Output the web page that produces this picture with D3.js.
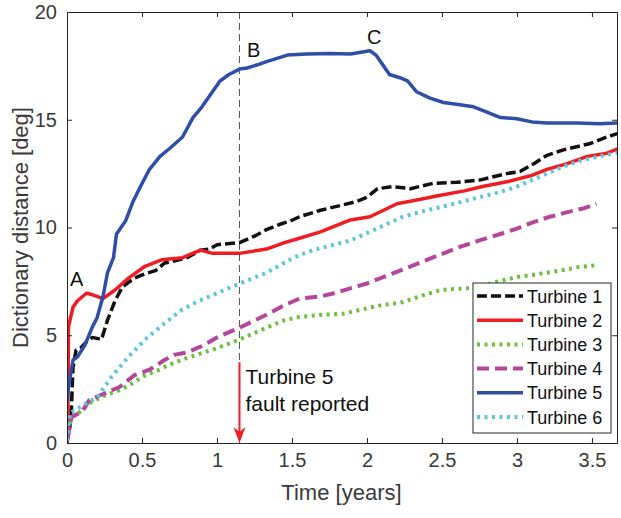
<!DOCTYPE html>
<html>
<head>
<meta charset="utf-8">
<script src="https://cdn.jsdelivr.net/npm/d3@7"></script>
<style>
  body { margin: 0; background: #fff; }
  text { font-family: "Liberation Sans", Arial, sans-serif; }
</style>
</head>
<body>
<div id="chart"></div>
<script>
const width = 621;
const height = 518;
const margin = { top: 12, right: 4, bottom: 75, left: 67 };

// [years, deg]
const turbine1 = [[0,0],[0.02,0.8],[0.03,1.7],[0.04,3.5],[0.06,4.3],[0.09,4.4],[0.13,4.7],[0.17,4.9],[0.23,4.8],[0.27,5.7],[0.32,6.6],[0.37,7.25],[0.45,7.65],[0.52,7.85],[0.59,8.0],[0.65,8.35],[0.72,8.45],[0.8,8.6],[0.89,8.95],[0.95,9.0],[1.0,9.2],[1.15,9.3],[1.25,9.6],[1.33,9.9],[1.42,10.15],[1.49,10.3],[1.55,10.5],[1.69,10.8],[1.84,11.05],[1.93,11.2],[2.0,11.4],[2.07,11.8],[2.17,11.9],[2.29,11.8],[2.44,12.05],[2.6,12.1],[2.75,12.2],[2.93,12.5],[3.02,12.6],[3.11,12.95],[3.2,13.35],[3.31,13.6],[3.49,13.9],[3.6,14.2],[3.69,14.4]];
const turbine2 = [[0,0],[0.005,0.75],[0.01,5.4],[0.04,6.3],[0.07,6.6],[0.13,6.95],[0.16,6.9],[0.2,6.8],[0.24,6.7],[0.29,6.95],[0.32,7.1],[0.41,7.65],[0.52,8.2],[0.63,8.5],[0.77,8.6],[0.89,8.95],[0.97,8.8],[1.15,8.8],[1.33,9.0],[1.45,9.3],[1.55,9.5],[1.69,9.8],[1.89,10.35],[2.02,10.5],[2.2,11.1],[2.35,11.3],[2.49,11.5],[2.65,11.7],[2.77,11.9],[2.95,12.15],[3.09,12.4],[3.2,12.7],[3.33,12.95],[3.47,13.3],[3.6,13.45],[3.69,13.7]];
const turbine3 = [[0,0.2],[0.01,0.5],[0.03,1.2],[0.1,1.5],[0.15,1.85],[0.25,2.2],[0.35,2.45],[0.43,2.75],[0.51,3.1],[0.6,3.35],[0.67,3.6],[0.78,3.9],[0.89,4.15],[1.0,4.4],[1.15,4.8],[1.33,5.35],[1.45,5.7],[1.55,5.85],[1.7,5.95],[1.84,6.0],[2.0,6.25],[2.1,6.4],[2.22,6.5],[2.35,6.8],[2.49,7.1],[2.6,7.15],[2.71,7.2],[2.85,7.45],[3.0,7.7],[3.15,7.85],[3.29,8.0],[3.4,8.15],[3.53,8.25]];
const turbine4 = [[0,0.2],[0.01,0.45],[0.03,1.2],[0.1,1.45],[0.15,2.0],[0.2,2.15],[0.3,2.45],[0.35,2.6],[0.45,3.15],[0.55,3.4],[0.65,3.85],[0.72,4.1],[0.8,4.2],[0.9,4.5],[1.0,4.9],[1.15,5.35],[1.33,5.95],[1.45,6.4],[1.55,6.7],[1.69,6.8],[1.78,6.95],[1.9,7.2],[2.0,7.4],[2.22,8.0],[2.4,8.5],[2.62,9.1],[2.75,9.4],[2.89,9.7],[3.0,9.95],[3.11,10.25],[3.22,10.5],[3.33,10.7],[3.45,10.9],[3.53,11.1]];
const turbine5 = [[0,1.9],[0.01,2.6],[0.04,3.85],[0.07,4.0],[0.12,4.55],[0.17,5.4],[0.2,5.8],[0.24,6.8],[0.27,7.9],[0.31,8.6],[0.33,9.7],[0.39,10.3],[0.44,11.2],[0.49,11.9],[0.55,12.7],[0.62,13.3],[0.69,13.7],[0.77,14.2],[0.84,15.1],[0.9,15.6],[0.95,16.1],[1.02,16.8],[1.08,17.1],[1.15,17.35],[1.2,17.4],[1.27,17.55],[1.33,17.7],[1.4,17.85],[1.47,18.0],[1.6,18.05],[1.75,18.08],[1.89,18.05],[2.02,18.2],[2.06,18.0],[2.09,17.7],[2.15,17.1],[2.22,16.95],[2.27,16.8],[2.33,16.3],[2.42,16.0],[2.51,15.8],[2.62,15.7],[2.71,15.6],[2.8,15.35],[2.89,15.1],[3.0,15.05],[3.1,14.9],[3.2,14.85],[3.4,14.85],[3.55,14.82],[3.69,14.85]];
const turbine6 = [[0,0.1],[0.02,1.4],[0.05,1.5],[0.14,1.9],[0.2,2.1],[0.3,3.1],[0.41,4.0],[0.52,4.8],[0.65,5.55],[0.77,6.2],[0.88,6.6],[1.0,6.95],[1.15,7.4],[1.33,7.9],[1.51,8.6],[1.64,8.95],[1.89,9.4],[2.05,9.9],[2.24,10.5],[2.4,10.8],[2.55,11.05],[2.72,11.35],[2.89,11.65],[3.0,11.9],[3.15,12.35],[3.3,12.8],[3.42,13.1],[3.55,13.3],[3.69,13.5]];

const seriesNames = ['Turbine 1', 'Turbine 2', 'Turbine 3', 'Turbine 4', 'Turbine 5', 'Turbine 6'];
const xTicks = [0, 0.5, 1, 1.5, 2, 2.5, 3, 3.5];
const yTicks = [0, 5, 10, 15, 20];
const faultTime = 1.15;
const notes = [{ label: 'A', t: 0.02, v: 7.3 }, { label: 'B', t: 1.2, v: 17.9 }, { label: 'C', t: 2.0, v: 18.5 }];

const styles = [
  { color: '#111111', dash: '10,4', w: 3.5 },
  { color: '#ee1d23', dash: null, w: 3.5 },
  { color: '#6cbf3f', dash: '3,4.5', w: 4 },
  { color: '#b4479b', dash: '12,6', w: 4 },
  { color: '#2f4fa6', dash: null, w: 3.5 },
  { color: '#5ec6dc', dash: '3,4.5', w: 4 },
];
const allSeries = [turbine1, turbine2, turbine3, turbine4, turbine5, turbine6];

const svg = d3.select('#chart').append('svg').attr('width', width).attr('height', height);
const innerW = width - margin.left - margin.right;
const innerH = height - margin.top - margin.bottom;

const x = d3.scaleLinear().domain([0, 3.667]).range([margin.left, margin.left + innerW]);
const y = d3.scaleLinear().domain([0, 20]).range([margin.top + innerH, margin.top]);

svg.append('clipPath').attr('id', 'clip')
  .append('rect')
  .attr('x', margin.left).attr('y', margin.top)
  .attr('width', innerW).attr('height', innerH);

// fault line
svg.append('line')
  .attr('x1', x(faultTime)).attr('x2', x(faultTime))
  .attr('y1', y(20)).attr('y2', y(0))
  .attr('stroke', '#555').attr('stroke-width', 1).attr('stroke-dasharray', '7,4');

const line = d3.line().x((d) => x(d[0])).y((d) => y(d[1]));
const plot = svg.append('g').attr('clip-path', 'url(#clip)');
allSeries.forEach((s, i) => {
  plot.append('path')
    .datum(s)
    .attr('d', line)
    .attr('fill', 'none')
    .attr('stroke', styles[i].color)
    .attr('stroke-width', styles[i].w)
    .attr('stroke-dasharray', styles[i].dash)
    .attr('stroke-linejoin', 'round');
});

// axes
const axisColor = '#262626';
const xAxis = svg.append('g').attr('transform', `translate(0,${y(0)})`)
  .call(d3.axisBottom(x).tickValues(xTicks).tickSize(-5).tickPadding(10).tickFormat(d3.format('')));
const xTop = svg.append('g').attr('transform', `translate(0,${y(20)})`)
  .call(d3.axisTop(x).tickValues(xTicks).tickSize(-5).tickFormat(''));
const yAxis = svg.append('g').attr('transform', `translate(${x(0)},0)`)
  .call(d3.axisLeft(y).tickValues(yTicks).tickSize(-5).tickPadding(10));
const yRight = svg.append('g').attr('transform', `translate(${x(3.667)},0)`)
  .call(d3.axisRight(y).tickValues(yTicks).tickSize(-5).tickFormat(''));

[xAxis, xTop, yAxis, yRight].forEach((g) => {
  g.select('.domain').attr('stroke', axisColor).attr('stroke-width', 1);
  g.selectAll('.tick line').attr('stroke', axisColor);
  g.selectAll('.tick text').attr('fill', '#3a3a3a').style('font-size', '20px');
});

svg.append('text')
  .attr('x', x(1.83)).attr('y', 500)
  .attr('text-anchor', 'middle')
  .attr('fill', '#3a3a3a').style('font-size', '22px')
  .text('Time [years]');

svg.append('text')
  .attr('transform', `translate(28,${y(10)}) rotate(-90)`)
  .attr('text-anchor', 'middle')
  .attr('fill', '#3a3a3a').style('font-size', '22px')
  .text('Dictionary distance [deg]');

// point labels
svg.selectAll('.note')
  .data(notes)
  .enter()
  .append('text')
  .attr('class', 'note')
  .attr('x', (d) => x(d.t))
  .attr('y', (d) => y(d.v))
  .attr('fill', '#111').style('font-size', '20px')
  .text((d) => d.label);

// fault arrow
const arrowTop = y(3.75);
const arrowTip = y(0);
svg.append('line')
  .attr('x1', x(faultTime)).attr('x2', x(faultTime))
  .attr('y1', arrowTop).attr('y2', arrowTip - 10)
  .attr('stroke', '#ee1d23').attr('stroke-width', 2);
svg.append('path')
  .attr('d', `M${x(faultTime) - 6},${arrowTip - 16} L${x(faultTime)},${arrowTip} L${x(faultTime) + 6},${arrowTip - 16} L${x(faultTime)},${arrowTip - 11} Z`)
  .attr('fill', '#ee1d23');

const faultText = svg.append('text')
  .attr('x', x(faultTime) + 6).attr('y', 384)
  .attr('fill', '#111').style('font-size', '21px');
faultText.append('tspan').text('Turbine 5');
faultText.append('tspan').attr('x', x(faultTime) + 6).attr('dy', 27).text('fault reported');

// legend
const legend = svg.append('g').attr('transform', 'translate(473,283)');
legend.append('rect')
  .attr('width', 138).attr('height', 150)
  .attr('fill', '#fff').attr('stroke', '#262626').attr('stroke-width', 1);
seriesNames.forEach((name, i) => {
  const cy = 13 + i * 24.2;
  legend.append('line')
    .attr('x1', 4).attr('x2', 50).attr('y1', cy).attr('y2', cy)
    .attr('stroke', styles[i].color)
    .attr('stroke-width', styles[i].w)
    .attr('stroke-dasharray', styles[i].dash);
  legend.append('text')
    .attr('x', 54).attr('y', cy + 6.5)
    .attr('fill', '#111').style('font-size', '18px')
    .text(name);
});
</script>
</body>
</html>
